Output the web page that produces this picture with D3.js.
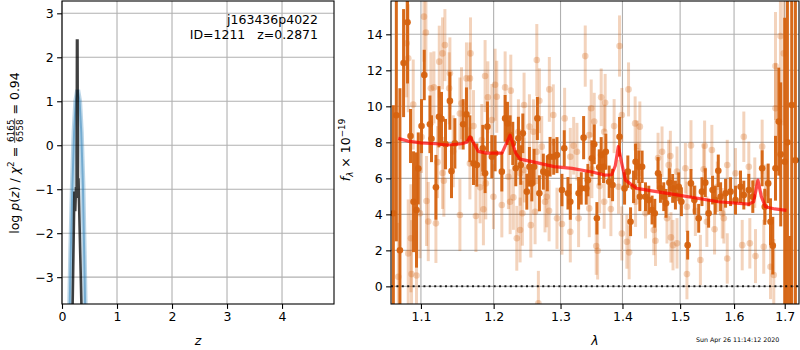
<!DOCTYPE html>
<html>
<head>
<meta charset="utf-8">
<script src="https://cdn.jsdelivr.net/npm/d3@7"></script>
<style>
  body { margin: 0; background: #fff; }
  text { font-family: "DejaVu Sans", sans-serif; }
</style>
</head>
<body>
<script>
// ---- data ----
// left panel: log p(z) (dark) and the smooth fit (blue)
const pzCurve = [[0.19, -3.9], [0.225, -1.05], [0.24, -1.5], [0.255, -0.95], [0.265, -1.2],
  [0.272, 2.38], [0.282, 2.38], [0.29, -0.8], [0.30, -0.75], [0.31, -1.3], [0.36, -4.0]];
const fitCurve = [[0.13, -4.3], [0.16, -2.4], [0.19, -0.9], [0.22, 0.3], [0.25, 1.0], [0.285, 1.26],
  [0.32, 1.0], [0.35, 0.3], [0.38, -0.9], [0.41, -2.9], [0.44, -5.0]];

// right panel: spectrum points [wavelength, flux, error]
const darkPoints = [
  [1.0643, 4.06, 6], [1.0681, 9.5, 7], [1.0727, 2.0, 9], [1.0774, 12.4, 3], [1.0825, 14.67, 3.4],
  [1.0864, 8.35, 1.5], [1.0903, 4.7, 2.8], [1.0942, 4.24, 3.2], [1.0965, 6.55, 2], [1.1008, 8.9, 1.5],
  [1.1044, 11.74, 1.4], [1.1119, 9.0, 1.6], [1.1140, 8.2, 1.3], [1.1199, 5.5, 1.8], [1.1240, 9.42, 1.7],
  [1.1274, 9.3, 1.5], [1.1328, 7.9, 1.4], [1.1388, 10.3, 1.6], [1.1410, 6.4, 1.5], [1.1456, 7.94, 1.4],
  [1.1570, 9.0, 1.4], [1.1616, 9.55, 1.5], [1.1664, 8.2, 1.3], [1.1714, 6.83, 1.2], [1.1761, 6.74, 1.2],
  [1.1845, 7.67, 1.3], [1.1878, 6.28, 1.1], [1.1911, 8.87, 1.4], [1.1974, 7.2, 1.2], [1.2021, 7.39, 1.0],
  [1.2118, 6.37, 1.1], [1.2166, 9.33, 1.3], [1.2200, 9.05, 1.2], [1.2239, 8.4, 1.1], [1.2278, 7.94, 1.2],
  [1.2322, 6.56, 1.0], [1.2361, 8.22, 1.2], [1.2396, 6.74, 1.1], [1.2426, 8.5, 1.1], [1.2486, 5.26, 1.0],
  [1.2525, 6.64, 1.1], [1.2561, 5.72, 1.0], [1.2595, 6.64, 1.0], [1.2645, 9.33, 1.2], [1.2675, 5.17, 1.0],
  [1.2735, 6.37, 1.0], [1.2796, 6.28, 1.0], [1.2838, 7.2, 1.1], [1.2894, 7.2, 1.0], [1.2945, 7.29, 1.0],
  [1.3022, 5.35, 0.9], [1.3058, 7.67, 1.0], [1.3116, 5.17, 0.9], [1.3153, 4.7, 1.0], [1.3284, 5.17, 0.9],
  [1.3326, 5.44, 0.9], [1.3364, 8.26, 1.2], [1.3406, 5.44, 0.9], [1.3433, 5.9, 0.9], [1.3497, 7.11, 1.0],
  [1.3535, 7.89, 1.1], [1.3578, 3.78, 0.9], [1.3616, 6.61, 1.0], [1.3648, 7.29, 1.0], [1.3687, 6.64, 0.9],
  [1.3724, 7.48, 1.0], [1.3779, 5.81, 0.9], [1.3835, 5.63, 0.9], [1.3951, 8.31, 1.1], [1.4035, 5.44, 0.9],
  [1.4090, 6.37, 0.9], [1.4136, 3.59, 0.8], [1.4187, 5.53, 0.9], [1.4221, 6.92, 1.0], [1.4277, 6.64, 0.9],
  [1.4294, 4.98, 0.8], [1.4333, 6.64, 0.9], [1.4391, 4.98, 0.8], [1.4448, 4.79, 0.8], [1.4505, 4.24, 0.8],
  [1.4552, 4.06, 0.8], [1.4609, 6.28, 0.9], [1.4651, 5.44, 0.8], [1.4709, 4.98, 0.8], [1.4749, 4.61, 0.8],
  [1.4809, 5.76, 0.8], [1.4867, 5.44, 0.8], [1.4916, 5.07, 0.8], [1.4975, 5.53, 0.8], [1.5023, 4.7, 0.8],
  [1.5136, 2.29, 0.8], [1.5196, 5.72, 0.8], [1.5258, 4.79, 0.8], [1.5337, 3.78, 0.8], [1.5397, 5.26, 0.8],
  [1.5459, 5.76, 0.8], [1.5520, 4.06, 0.8], [1.5594, 5.35, 0.8], [1.5644, 4.79, 0.8], [1.5701, 6.42, 0.9],
  [1.5744, 4.98, 0.8], [1.5838, 5.17, 0.8], [1.5933, 5.26, 0.8], [1.6028, 4.79, 0.8], [1.6124, 5.53, 0.9],
  [1.6188, 5.07, 0.8], [1.6285, 5.35, 0.9], [1.6363, 4.98, 0.9], [1.6547, 6.56, 1.0], [1.6599, 4.42, 1.0],
  [1.6667, 5.72, 1.1], [1.6713, 3.59, 1.3], [1.6759, 2.26, 1.6], [1.6813, 6.56, 1.8], [1.6879, 9.15, 3],
  [1.6919, 7.33, 4], [1.7000, 6.92, 8], [1.7055, 8.0, 10], [1.7106, -2.0, 4.8], [1.7143, 10.07, 12],
  [1.7219, 7.0, 10]
];
const lightPoints = [
  [1.0706, 0.53, 3], [1.0813, 13.5, 3], [1.0834, 12.67, 3], [1.0834, 1.83, 3], [1.0869, 2.67, 3],
  [1.0877, 0.68, 3], [1.0899, 10.1, 2.5], [1.0942, 0.6, 2.5], [1.0987, 4.06, 2.5], [1.1008, 8.3, 2],
  [1.1040, 14.98, 2.5], [1.1066, 14.1, 2.5], [1.1074, 4.74, 2.5], [1.1097, 3.6, 2.2], [1.1132, 11.0, 2],
  [1.1172, 11.05, 2], [1.1199, 3.5, 2.2], [1.1221, 6.9, 2], [1.1244, 12.48, 2], [1.1288, 12.94, 2],
  [1.1288, 6.3, 2], [1.1306, 5.87, 2], [1.1320, 13.4, 2], [1.1378, 11.0, 2], [1.1388, 11.83, 2],
  [1.1433, 7.5, 2], [1.1525, 9.6, 2], [1.1525, 3.96, 2], [1.1547, 10.17, 2], [1.1616, 11.55, 2],
  [1.1664, 11.55, 2], [1.1664, 6.83, 2], [1.1672, 12.94, 2], [1.1714, 8.9, 2], [1.1748, 3.91, 2],
  [1.1807, 5.5, 2], [1.1831, 8.13, 2], [1.1854, 4.28, 2], [1.1878, 11.68, 2], [1.1888, 5.72, 2],
  [1.1917, 10.5, 2], [1.1974, 9.24, 2], [1.1997, 4.98, 1.8], [1.2021, 11.2, 2], [1.2045, 10.53, 2],
  [1.2118, 4.52, 1.8], [1.2166, 11.05, 2], [1.2214, 6.09, 1.8], [1.2239, 4.7, 1.8], [1.2249, 10.87, 2],
  [1.2287, 4.94, 1.8], [1.2337, 2.67, 1.8], [1.2361, 8.59, 1.8], [1.2386, 6.28, 1.8], [1.2386, 3.13, 1.8],
  [1.2420, 4.06, 1.8], [1.2445, 10.07, 1.8], [1.2450, 6.46, 1.8], [1.2525, 8.87, 1.8], [1.2546, 3.4, 1.8],
  [1.2585, 8.59, 1.8], [1.2610, 4.14, 1.8], [1.2636, 12.57, 2], [1.2636, 7.48, 1.8], [1.2660, -0.94, 1.8],
  [1.2675, 10.31, 1.8], [1.2711, 7.76, 1.7], [1.2761, 4.7, 1.7], [1.2787, 4.98, 1.7], [1.2823, 4.2, 1.7],
  [1.2827, 10.94, 1.8], [1.2888, 9.52, 1.7], [1.2945, 3.78, 1.7], [1.3022, 3.46, 1.7], [1.3064, 9.33, 1.7],
  [1.3153, 7.2, 1.6], [1.3153, 3.03, 1.7], [1.3206, 7.81, 1.6], [1.3258, 7.48, 1.6], [1.3284, 3.78, 1.6],
  [1.3390, 12.79, 1.7], [1.3454, 8.4, 1.6], [1.3454, 4.33, 1.6], [1.3486, 9.89, 1.6], [1.3497, 6.5, 1.6],
  [1.3535, 9.15, 1.6], [1.3567, 2.24, 1.6], [1.3590, 1.98, 1.6], [1.3622, 5.57, 1.5], [1.3648, 10.5, 1.6],
  [1.3697, 8.59, 1.5], [1.3697, 4.7, 1.5], [1.3713, 10.2, 1.6], [1.3807, 4.29, 1.5], [1.3861, 8.9, 1.5],
  [1.3934, 5.53, 1.5], [1.3951, 13.35, 1.7], [1.3990, 9.52, 1.5], [1.3990, 2.94, 1.5], [1.4074, 2.48, 1.5],
  [1.4102, 10.94, 1.5], [1.4112, 1.89, 1.5], [1.4214, 9.05, 1.5], [1.4221, 4.7, 1.4], [1.4248, 7.81, 1.4],
  [1.4277, 6.28, 1.4], [1.4294, 8.87, 1.4], [1.4391, 4.06, 1.4], [1.4535, 3.13, 1.4], [1.4564, 2.53, 1.4],
  [1.4609, 7.13, 1.4], [1.4679, 7.48, 1.4], [1.4766, 3.78, 1.4], [1.4796, 6.74, 1.4], [1.4826, 7.24, 1.4],
  [1.4836, 2.72, 1.4], [1.4873, 2.29, 1.4], [1.4944, 2.39, 1.4], [1.4944, 6.37, 1.4], [1.5095, 6.56, 1.4],
  [1.5123, 0.68, 1.4], [1.5123, 4.42, 1.4], [1.5196, 7.83, 1.4], [1.5276, 4.2, 1.4], [1.5368, 1.46, 1.4],
  [1.5428, 6.5, 1.4], [1.5446, 7.81, 1.4], [1.5488, 3.59, 1.4], [1.5581, 7.57, 1.4], [1.5631, 3.17, 1.4],
  [1.5682, 5.53, 1.4], [1.5776, 4.06, 1.4], [1.5806, 3.78, 1.4], [1.5870, 6.74, 1.4], [1.5870, 1.55, 1.4],
  [1.6028, 6.28, 1.4], [1.6157, 2.29, 1.4], [1.6188, 8.31, 1.4], [1.6285, 6.64, 1.4], [1.6305, 2.39, 1.4],
  [1.6402, 5.76, 1.4], [1.6416, 1.68, 1.5], [1.6547, 7.76, 1.5], [1.6579, 2.2, 1.5], [1.6613, 5.17, 1.6],
  [1.6713, 1.09, 1.8], [1.6779, 0.63, 2], [1.6813, 9.89, 2.5], [1.6813, 12.24, 3], [1.6913, 13.9, 4],
  [1.6980, 12.94, 4]
];
// best-fit template
const modelCurve = [
  [1.0706, 8.22], [1.085, 8.05], [1.10, 7.97], [1.12, 7.92], [1.135, 7.85], [1.155, 7.92], [1.162, 8.0],
  [1.1667, 8.3], [1.171, 8.0], [1.178, 7.5], [1.19, 7.4], [1.212, 7.4], [1.2239, 8.4], [1.232, 7.4],
  [1.2386, 7.07], [1.26, 6.9], [1.29, 6.65], [1.318, 6.55], [1.35, 6.35], [1.371, 6.18], [1.382, 6.2],
  [1.388, 6.7], [1.393, 7.76], [1.399, 6.8], [1.405, 5.9], [1.424, 5.44], [1.45, 5.3], [1.50, 5.05],
  [1.57, 4.7], [1.6285, 4.57], [1.638, 4.7], [1.6464, 5.9], [1.653, 5.0], [1.661, 4.42], [1.68, 4.3],
  [1.7035, 4.22]
];

const zTicks = [0, 1, 2, 3, 4];
const logTicks = [-3, -2, -1, 0, 1, 2, 3];
const waveTicks = [1.1, 1.2, 1.3, 1.4, 1.5, 1.6, 1.7];
const fluxTicks = [0, 2, 4, 6, 8, 10, 12, 14];

// ---- layout ----
const width = 800, height = 350;
const fontSize = 12.5;
const orange = "#d5620f";

const svg = d3.select("body").append("svg")
    .attr("width", width)
    .attr("height", height);

const leftBox = { x0: 62, x1: 334, y0: 1, y1: 304 };
const rightBox = { x0: 391, x1: 799, y0: 1, y1: 304 };

const xz = d3.scaleLinear().domain([0, 4.945]).range([leftBox.x0, leftBox.x1]);
const yp = d3.scaleLinear().domain([-3.61, 3.28]).range([leftBox.y1, leftBox.y0]);
const xw = d3.scaleLog().domain([1.0613, 1.7293]).range([rightBox.x0, rightBox.x1]);
const yf = d3.scaleLinear().domain([-0.98, 15.85]).range([rightBox.y1, rightBox.y0]);

const defs = svg.append("defs");
function clipFor(id, b) {
    defs.append("clipPath").attr("id", id)
        .append("rect")
        .attr("x", b.x0).attr("y", b.y0)
        .attr("width", b.x1 - b.x0).attr("height", b.y1 - b.y0);
}
clipFor("clipL", leftBox);
clipFor("clipR", rightBox);

// grid + axes for one panel
function drawAxes(b, x, y, xt, yt, xfmt, yfmt) {
    const grid = svg.append("g").attr("stroke", "#b0b0b0").attr("stroke-width", 1.1);
    xt.forEach(t => grid.append("line")
        .attr("x1", x(t)).attr("x2", x(t)).attr("y1", b.y0).attr("y2", b.y1));
    yt.forEach(t => grid.append("line")
        .attr("x1", b.x0).attr("x2", b.x1).attr("y1", y(t)).attr("y2", y(t)));

    const ax = svg.append("g")
        .attr("transform", `translate(0,${b.y1})`)
        .call(d3.axisBottom(x).tickValues(xt).tickFormat(xfmt).tickSize(4.9).tickPadding(3.5));
    const ay = svg.append("g")
        .attr("transform", `translate(${b.x0},0)`)
        .call(d3.axisLeft(y).tickValues(yt).tickFormat(yfmt).tickSize(4.9).tickPadding(3.5));
    [ax, ay].forEach(a => {
        a.select(".domain").remove();
        a.selectAll("line").attr("stroke", "#000").attr("stroke-width", 1.1);
        a.selectAll("text")
            .attr("fill", "#000")
            .style("font-size", fontSize + "px")
            .style("font-family", "DejaVu Sans");
    });
}

drawAxes(leftBox, xz, yp, zTicks, logTicks, d3.format("d"), d3.format("d"));
drawAxes(rightBox, xw, yf, waveTicks, fluxTicks, d3.format(".1f"), d3.format("d"));

// ---- left panel curves ----
const lineL = d3.line().x(d => xz(d[0])).y(d => yp(d[1]));
const gL = svg.append("g").attr("clip-path", "url(#clipL)");
gL.append("path").datum(fitCurve).attr("d", lineL)
    .attr("fill", "none").attr("stroke", "#1f77b4").attr("stroke-opacity", 0.3)
    .attr("stroke-width", 5);
gL.append("path").datum(fitCurve).attr("d", lineL)
    .attr("fill", "none").attr("stroke", "#1f77b4").attr("stroke-opacity", 0.45)
    .attr("stroke-width", 2);
gL.append("path").datum(pzCurve).attr("d", lineL)
    .attr("fill", "none").attr("stroke", "#000").attr("stroke-opacity", 0.75)
    .attr("stroke-width", 2.6).attr("stroke-linejoin", "miter");

svg.append("text").attr("x", 318).attr("y", 24).attr("text-anchor", "end")
    .style("font-size", fontSize + "px").text("j163436p4022");
svg.append("text").attr("x", 318).attr("y", 38.5).attr("text-anchor", "end")
    .attr("xml:space", "preserve")
    .style("font-size", fontSize + "px").text("ID=1211   z=0.2871");

// ---- right panel spectrum ----
const gR = svg.append("g").attr("clip-path", "url(#clipR)");

function drawPoints(data, alpha) {
    const g = gR.append("g").attr("opacity", 1);
    g.selectAll("line.err").data(data).enter().append("line")
        .attr("class", "err")
        .attr("x1", d => xw(d[0])).attr("x2", d => xw(d[0]))
        .attr("y1", d => yf(d[1] - d[2])).attr("y2", d => yf(d[1] + d[2]))
        .attr("stroke", orange).attr("stroke-opacity", alpha).attr("stroke-width", 3);
    g.selectAll("circle").data(data).enter().append("circle")
        .attr("cx", d => xw(d[0])).attr("cy", d => yf(d[1])).attr("r", 3.3)
        .attr("fill", orange).attr("fill-opacity", alpha);
}
drawPoints(lightPoints, 0.28);
drawPoints(darkPoints, 0.95);

const lineR = d3.line().x(d => xw(d[0])).y(d => yf(d[1]));
gR.append("path").datum(modelCurve).attr("d", lineR)
    .attr("fill", "none").attr("stroke", "red").attr("stroke-opacity", 0.7)
    .attr("stroke-width", 3.2).attr("stroke-linejoin", "round");

gR.append("line")
    .attr("x1", rightBox.x0).attr("x2", rightBox.x1)
    .attr("y1", yf(0)).attr("y2", yf(0))
    .attr("stroke", "#000").attr("stroke-width", 2).attr("stroke-dasharray", "2,3.4")
    .attr("stroke-opacity", 0.85);

// frames
[leftBox, rightBox].forEach(b => svg.append("rect")
    .attr("x", b.x0).attr("y", b.y0).attr("width", b.x1 - b.x0).attr("height", b.y1 - b.y0)
    .attr("fill", "none").attr("stroke", "#000").attr("stroke-width", 1.1));

// ---- axis labels ----
svg.append("text").attr("x", 198).attr("y", 345).attr("text-anchor", "middle")
    .style("font-size", fontSize + "px").style("font-style", "italic").text("z");
svg.append("text").attr("x", 595).attr("y", 345).attr("text-anchor", "middle")
    .style("font-size", fontSize + "px").style("font-style", "italic").text("λ");

// left y label with stacked fraction
const labL = svg.append("g").attr("transform", "translate(18.5,153) rotate(-90)");
const inner = labL.append("g");
const t1 = inner.append("text").style("font-size", fontSize + "px");
t1.append("tspan").text("log ");
t1.append("tspan").style("font-style", "italic").text("p");
t1.append("tspan").text("(");
t1.append("tspan").style("font-style", "italic").text("z");
t1.append("tspan").text(") / ");
t1.append("tspan").style("font-style", "italic").text("χ");
t1.append("tspan").style("font-size", "8.8px").attr("dy", -5).text("2");
t1.append("tspan").attr("dy", 5).attr("xml:space", "preserve").text(" = ");
const w1 = t1.node().getComputedTextLength();
const num = inner.append("text").attr("x", w1 + 1).attr("y", -5).style("font-size", "8.8px").text("6165");
const den = inner.append("text").attr("x", w1 + 1).attr("y", 4.2).style("font-size", "8.8px").text("6558");
const wf = Math.max(num.node().getComputedTextLength(), den.node().getComputedTextLength()) + 2;
inner.append("line").attr("x1", w1).attr("x2", w1 + wf).attr("y1", -3.8).attr("y2", -3.8)
    .attr("stroke", "#000").attr("stroke-width", 0.7);
const t3 = inner.append("text").attr("x", w1 + wf).attr("xml:space", "preserve")
    .style("font-size", fontSize + "px").text(" = 0.94");
const total = w1 + wf + t3.node().getComputedTextLength();
inner.attr("transform", `translate(${-total / 2},0)`);

// right y label
const labR = svg.append("text").attr("transform", "translate(350,150) rotate(-90)")
    .attr("text-anchor", "middle").style("font-size", fontSize + "px");
labR.append("tspan").style("font-style", "italic").text("f");
labR.append("tspan").style("font-style", "italic").style("font-size", "8.8px").attr("dy", 3).text("λ");
labR.append("tspan").attr("dy", -3).attr("xml:space", "preserve").text(" × 10");
labR.append("tspan").style("font-size", "8.8px").attr("dy", -5).text("−19");

// timestamp
svg.append("text").attr("x", 696).attr("y", 341.5)
    .style("font-size", "6.3px").text("Sun Apr 26 11:14:12 2020");
</script>
</body>
</html>
